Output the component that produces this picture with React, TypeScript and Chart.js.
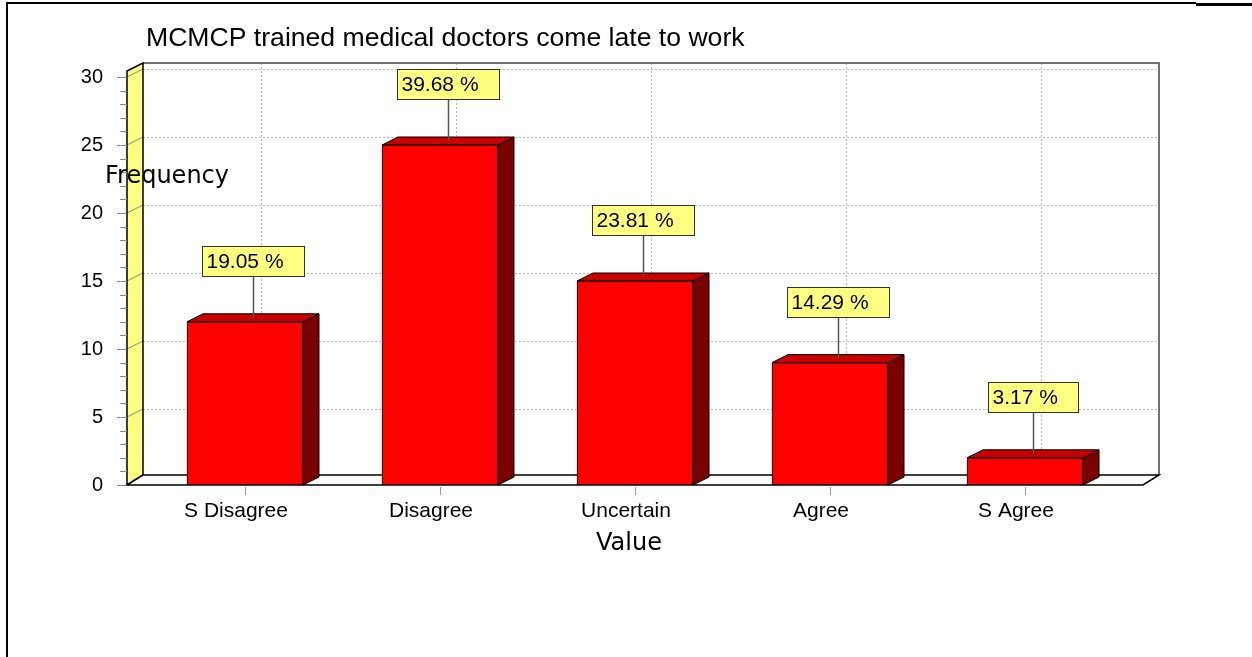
import React, { useEffect, useRef } from "react";
import { Chart, registerables } from "chart.js";

Chart.register(...registerables);

// ---- chart data ----
const categories = ["S Disagree", "Disagree", "Uncertain", "Agree", "S Agree"];
const frequencies = [12, 25, 15, 9, 2];
const yTicks = [0, 5, 10, 15, 20, 25, 30];
const titleText = "MCMCP trained medical doctors come late to work";
const yAxisTitle = "Frequency";
const xAxisTitle = "Value";

const total = frequencies.reduce((a, b) => a + b, 0);
const percentLabels = frequencies.map((v) => ((v / total) * 100).toFixed(2) + " %");

// ---- drawing constants ----
const W = 1252;
const H = 657;
const DX = 16; // depth offset (x) of the 3D box
const DY = 8; // depth offset (y) of the 3D box
const SANS = "'Liberation Sans', Arial, sans-serif";
const LABEL_SANS = "'DejaVu Sans', Verdana, sans-serif";

const scene3d = {
  id: "scene3d",
  beforeDatasetsDraw(chart: any) {
    const ctx: CanvasRenderingContext2D = chart.ctx;
    const xs = chart.scales.x;
    const ys = chart.scales.y;
    const { left, right, top, bottom } = chart.chartArea;
    const yMax = yTicks[yTicks.length - 1];

    ctx.save();

    // page frame
    ctx.fillStyle = "#000";
    ctx.fillRect(6, 2, 2, H - 2);
    ctx.fillRect(6, 2, 1190, 2);
    ctx.fillRect(1196, 3, W - 1196, 3);

    // title
    ctx.fillStyle = "#000";
    ctx.font = `26.6px ${SANS}`;
    ctx.textAlign = "left";
    ctx.textBaseline = "alphabetic";
    ctx.fillText(titleText, 146, 46);

    const frontTop = ys.getPixelForValue(yMax) - 6;
    const backTop = frontTop - DY;
    const bl = left + DX;
    const br = right + DX;
    const floorBack = bottom - 10;

    // back wall
    ctx.fillStyle = "#fff";
    ctx.fillRect(bl, backTop, br - bl, floorBack - backTop);

    // back wall grid (dotted)
    ctx.strokeStyle = "#b8b8b8";
    ctx.lineWidth = 1;
    ctx.setLineDash([2, 2]);
    for (const v of yTicks) {
      if (v === 0) continue;
      const y = Math.round(ys.getPixelForValue(v) - DY) + 0.5;
      ctx.beginPath();
      ctx.moveTo(bl, y);
      ctx.lineTo(br, y);
      ctx.stroke();
    }
    categories.forEach((_, i) => {
      const x = Math.round(xs.getPixelForValue(i) + DX) + 0.5;
      ctx.beginPath();
      ctx.moveTo(x, backTop);
      ctx.lineTo(x, floorBack);
      ctx.stroke();
    });
    ctx.setLineDash([]);

    // back wall top and right edges
    ctx.strokeStyle = "#707070";
    ctx.lineWidth = 2;
    ctx.beginPath();
    ctx.moveTo(bl, backTop);
    ctx.lineTo(br, backTop);
    ctx.lineTo(br, floorBack);
    ctx.stroke();

    // left wall (yellow)
    ctx.fillStyle = "#ffff80";
    ctx.beginPath();
    ctx.moveTo(left, frontTop);
    ctx.lineTo(bl, backTop);
    ctx.lineTo(bl, floorBack);
    ctx.lineTo(left, bottom);
    ctx.closePath();
    ctx.fill();

    // diagonal grid lines on the left wall
    ctx.strokeStyle = "#8a8a8a";
    ctx.lineWidth = 1;
    for (const v of yTicks) {
      if (v === 0) continue;
      const y = ys.getPixelForValue(v);
      ctx.beginPath();
      ctx.moveTo(left, y);
      ctx.lineTo(bl, y - DY);
      ctx.stroke();
    }

    ctx.strokeStyle = "#000";
    ctx.lineWidth = 1.5;
    ctx.beginPath();
    ctx.moveTo(left, frontTop);
    ctx.lineTo(bl, backTop);
    ctx.lineTo(bl, floorBack);
    ctx.lineTo(left, bottom);
    ctx.closePath();
    ctx.stroke();

    // floor
    ctx.fillStyle = "#fff";
    ctx.beginPath();
    ctx.moveTo(left, bottom);
    ctx.lineTo(bl, floorBack);
    ctx.lineTo(br, floorBack);
    ctx.lineTo(right, bottom);
    ctx.closePath();
    ctx.fill();
    ctx.stroke();

    // y axis ticks (major every 5, minor every 1)
    ctx.strokeStyle = "#8a8a8a";
    ctx.lineWidth = 1;
    for (let v = 0; v <= yMax; v++) {
      const y = Math.round(ys.getPixelForValue(v)) + 0.5;
      const len = v % 5 === 0 ? 10 : 7;
      ctx.beginPath();
      ctx.moveTo(left - len, y);
      ctx.lineTo(left, y);
      ctx.stroke();
    }
    ctx.fillStyle = "#000";
    ctx.font = `20px ${SANS}`;
    ctx.textAlign = "right";
    ctx.textBaseline = "middle";
    for (const v of yTicks) {
      ctx.fillText(String(v), 103, ys.getPixelForValue(v));
    }

    // x axis ticks and labels
    ctx.font = `21px ${SANS}`;
    ctx.textAlign = "center";
    ctx.textBaseline = "alphabetic";
    categories.forEach((c, i) => {
      const x = Math.round(xs.getPixelForValue(i)) + 0.5;
      ctx.strokeStyle = "#9a9a9a";
      ctx.beginPath();
      ctx.moveTo(x, bottom + 2);
      ctx.lineTo(x, bottom + 10);
      ctx.stroke();
      ctx.fillText(c, x - 9.5, 517);
    });

    // axis titles
    ctx.font = `24px ${LABEL_SANS}`;
    ctx.textAlign = "left";
    ctx.fillText(yAxisTitle, 105, 183);
    ctx.textAlign = "center";
    ctx.fillText(xAxisTitle, 629, 550);

    ctx.restore();
  },
  afterDatasetsDraw(chart: any) {
    const ctx: CanvasRenderingContext2D = chart.ctx;
    const meta = chart.getDatasetMeta(0);
    ctx.save();
    meta.data.forEach((bar: any, i: number) => {
      const { x, y, base, width } = bar.getProps(["x", "y", "base", "width"], true);
      const l = x - width / 2;
      const r = x + width / 2;

      // top face
      ctx.fillStyle = "#c80000";
      ctx.strokeStyle = "#000";
      ctx.lineWidth = 1;
      ctx.beginPath();
      ctx.moveTo(l, y);
      ctx.lineTo(l + DX, y - DY);
      ctx.lineTo(r + DX, y - DY);
      ctx.lineTo(r, y);
      ctx.closePath();
      ctx.fill();
      ctx.stroke();

      // side face
      ctx.fillStyle = "#7a0000";
      ctx.beginPath();
      ctx.moveTo(r, y);
      ctx.lineTo(r + DX, y - DY);
      ctx.lineTo(r + DX, base - DY);
      ctx.lineTo(r, base);
      ctx.closePath();
      ctx.fill();
      ctx.stroke();

      // percentage call-out
      const cx = x + DX / 2;
      const cy = y - DY / 2;
      ctx.font = `21px ${SANS}`;
      const text = percentLabels[i];
      const tw = ctx.measureText(text).width;
      const bw = Math.round(tw + 25);
      const bh = 30;
      const bx = Math.round(cx - bw / 2) + 0.5;
      const by = Math.round(cy - 42 - bh) + 0.5;

      ctx.strokeStyle = "#555";
      ctx.lineWidth = 1.5;
      ctx.beginPath();
      ctx.moveTo(Math.round(cx) + 0.5, by + bh);
      ctx.lineTo(Math.round(cx) + 0.5, cy);
      ctx.stroke();

      ctx.fillStyle = "#ffff80";
      ctx.fillRect(bx, by, bw, bh);
      ctx.strokeStyle = "#333";
      ctx.lineWidth = 1;
      ctx.strokeRect(bx, by, bw, bh);

      ctx.fillStyle = "#000";
      ctx.textAlign = "left";
      ctx.textBaseline = "middle";
      ctx.fillText(text, bx + 4, by + bh / 2 + 1);
    });
    ctx.restore();
  },
};

export default function App() {
  const canvasRef = useRef<HTMLCanvasElement | null>(null);

  useEffect(() => {
    const canvas = canvasRef.current;
    if (!canvas) return;
    const chart = new Chart(canvas, {
      type: "bar",
      data: {
        datasets: [
          {
            data: frequencies.map((v, i) => ({ x: i, y: v })),
            backgroundColor: "#ff0000",
            borderColor: "#000",
            borderWidth: 1,
            borderSkipped: false,
            barThickness: 116,
          },
        ],
      },
      options: {
        responsive: false,
        animation: false,
        devicePixelRatio: 1,
        layout: { padding: { left: 127, right: W - 1143, top: 77, bottom: H - 485 } },
        plugins: {
          legend: { display: false },
          title: { display: false },
          tooltip: { enabled: false },
        },
        scales: {
          x: {
            type: "linear",
            display: false,
            offset: false,
            min: -0.605,
            max: categories.length - 1 + 0.605,
          },
          y: { type: "linear", display: false, min: 0, max: yTicks[yTicks.length - 1] },
        },
      },
      plugins: [scene3d],
    });
    return () => chart.destroy();
  }, []);

  return (
    <div style={{ position: "absolute", left: 0, top: 0, width: W, height: H, background: "#fff" }}>
      <canvas ref={canvasRef} width={W} height={H} style={{ display: "block", width: W, height: H }} />
    </div>
  );
}
